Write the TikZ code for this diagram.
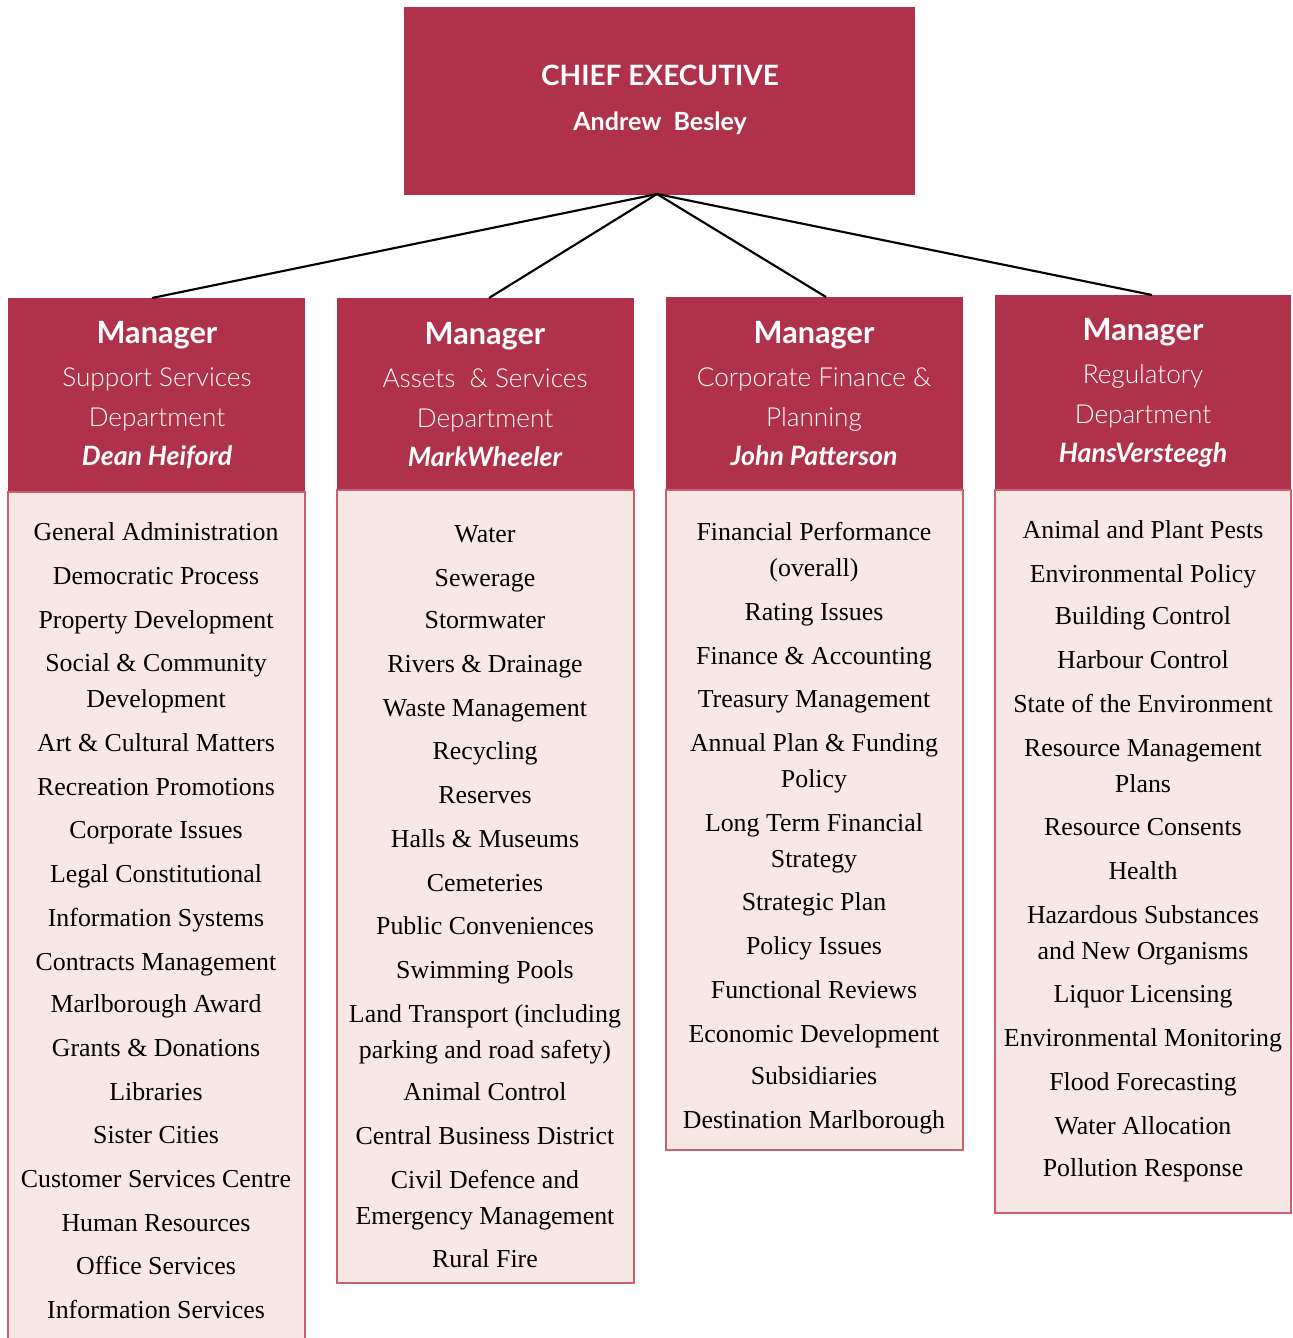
\documentclass[tikz,border=0pt]{standalone}
\usepackage{fontspec}
\setmainfont{Liberation Serif}
\newfontfamily\headfont{Lato}
\newfontfamily\headlight{Lato Light}
\definecolor{hdred}{HTML}{B0314A}
\definecolor{bodypink}{HTML}{F7E8E6}
\definecolor{edgered}{HTML}{C8606E}
\tikzset{
  px/.style={x=0.75pt,y=-0.75pt},
  headbox/.style={fill=hdred,draw=none},
  bodybox/.style={fill=bodypink,draw=edgered,line width=1.2pt},
  txt/.style={anchor=center,text height=0.7em,text depth=0.2em,inner sep=0pt,yshift=-3.6pt},
  item/.style={txt,font=\fontsize{19.4}{22}\selectfont,text=black},
  mgr/.style={txt,font=\headfont\bfseries\fontsize{23}{26}\selectfont,text=white,yshift=-2pt},
  dept/.style={txt,font=\headlight\fontsize{19.6}{23}\selectfont,text=white},
  who/.style={txt,font=\headfont\bfseries\itshape\fontsize{20}{24}\selectfont,text=white},
  link/.style={draw=black,line width=1.6pt}
}
\begin{document}
\begin{tikzpicture}[px]
\useasboundingbox (0,0) rectangle (1292,1338);
\clip (0,0) rectangle (1292,1338);

% chief executive box
\node[headbox,minimum width=511*0.75pt,minimum height=188*0.75pt,anchor=north west,inner sep=0pt] (ceo) at (404,7) {};
\node[txt,font=\headfont\bfseries\fontsize{21}{25}\selectfont,text=white] (ceotitle) at (660,77) {CHIEF EXECUTIVE};
\node[txt,font=\headfont\bfseries\fontsize{18.8}{22}\selectfont,text=white] (ceoname) at (660,122) {Andrew\ \ Besley};
\coordinate (hub) at (657,194);

% department columns: header and body panels
\fill[hdred] (8,298) rectangle (305,492);
\draw[bodybox] (8,492) rectangle (305,1360);
\coordinate (top1) at (152,298);

\fill[hdred] (337,298) rectangle (634,490);
\draw[bodybox] (337,490) rectangle (634,1283);
\coordinate (top2) at (489,298);

\fill[hdred] (666,297) rectangle (963,490);
\draw[bodybox] (666,490) rectangle (963,1150);
\coordinate (top3) at (826,297);

\fill[hdred] (995,295) rectangle (1291,490);
\draw[bodybox] (995,490) rectangle (1291,1213);
\coordinate (top4) at (1152,295);

% reporting lines
\draw[link] (hub) -- (top1);
\draw[link] (hub) -- (top2);
\draw[link] (hub) -- (top3);
\draw[link] (hub) -- (top4);

% header texts
\node[mgr] (m1) at (157,333) {Manager};
\node[dept] (d1a) at (157,378) {Support Services};
\node[dept] (d1b) at (157,418) {Department};
\node[who] (n1) at (157,457) {Dean Heiford};

\node[mgr] (m2) at (485,334) {Manager};
\node[dept] (d2a) at (485,379) {Assets\ \ \&\ Services};
\node[dept] (d2b) at (485,419) {Department};
\node[who] (n2) at (485,458) {MarkWheeler};

\node[mgr] (m3) at (814,333) {Manager};
\node[dept] (d3a) at (814,378) {Corporate Finance \&};
\node[dept] (d3b) at (814,418) {Planning};
\node[who] (n3) at (814,457) {John Patterson};

\node[mgr] (m4) at (1143,330) {Manager};
\node[dept] (d4a) at (1143,375) {Regulatory};
\node[dept] (d4b) at (1143,415) {Department};
\node[who] (n4) at (1143,454) {HansVersteegh};

% column 1 items
\foreach \y/\t [count=\k] in {
  532/General Administration, 576/Democratic Process, 620/Property Development,
  663/Social \& Community, 699/Development, 743/Art \& Cultural Matters,
  787/Recreation Promotions, 830/Corporate Issues, 874/Legal Constitutional,
  918/Information Systems, 962/Contracts Management, 1004/Marlborough Award,
  1048/Grants \& Donations, 1092/Libraries, 1135/Sister Cities,
  1179/Customer Services Centre, 1223/Human Resources, 1266/Office Services,
  1310/Information Services}
  \node[item] (a\k) at (156,\y) {\t};

% column 2 items
\foreach \y/\t [count=\k] in {
  534/Water, 578/Sewerage, 620/Stormwater, 664/Rivers \& Drainage,
  708/Waste Management, 751/Recycling, 795/Reserves, 839/Halls \& Museums,
  883/Cemeteries, 926/Public Conveniences, 970/Swimming Pools,
  1014/Land Transport (including, 1050/parking and road safety),
  1092/Animal Control, 1136/Central Business District, 1180/Civil Defence and,
  1216/Emergency Management, 1259/Rural Fire}
  \node[item] (b\k) at (485,\y) {\t};

% column 3 items
\foreach \y/\t [count=\k] in {
  532/Financial Performance, 568/(overall), 612/Rating Issues,
  656/Finance \& Accounting, 699/Treasury Management, 743/Annual Plan \& Funding,
  779/Policy, 823/Long Term Financial, 859/Strategy, 902/Strategic Plan,
  946/Policy Issues, 990/Functional Reviews, 1034/Economic Development,
  1076/Subsidiaries, 1120/Destination Marlborough}
  \node[item] (c\k) at (814,\y) {\t};

% column 4 items
\foreach \y/\t [count=\k] in {
  530/Animal and Plant Pests, 574/Environmental Policy, 616/Building Control,
  660/Harbour Control, 704/State of the Environment, 748/Resource Management,
  784/Plans, 827/Resource Consents, 871/Health, 915/Hazardous Substances,
  951/and New Organisms, 994/Liquor Licensing, 1038/Environmental Monitoring,
  1082/Flood Forecasting, 1126/Water Allocation, 1168/Pollution Response}
  \node[item] (e\k) at (1143,\y) {\t};
\end{tikzpicture}
\end{document}
